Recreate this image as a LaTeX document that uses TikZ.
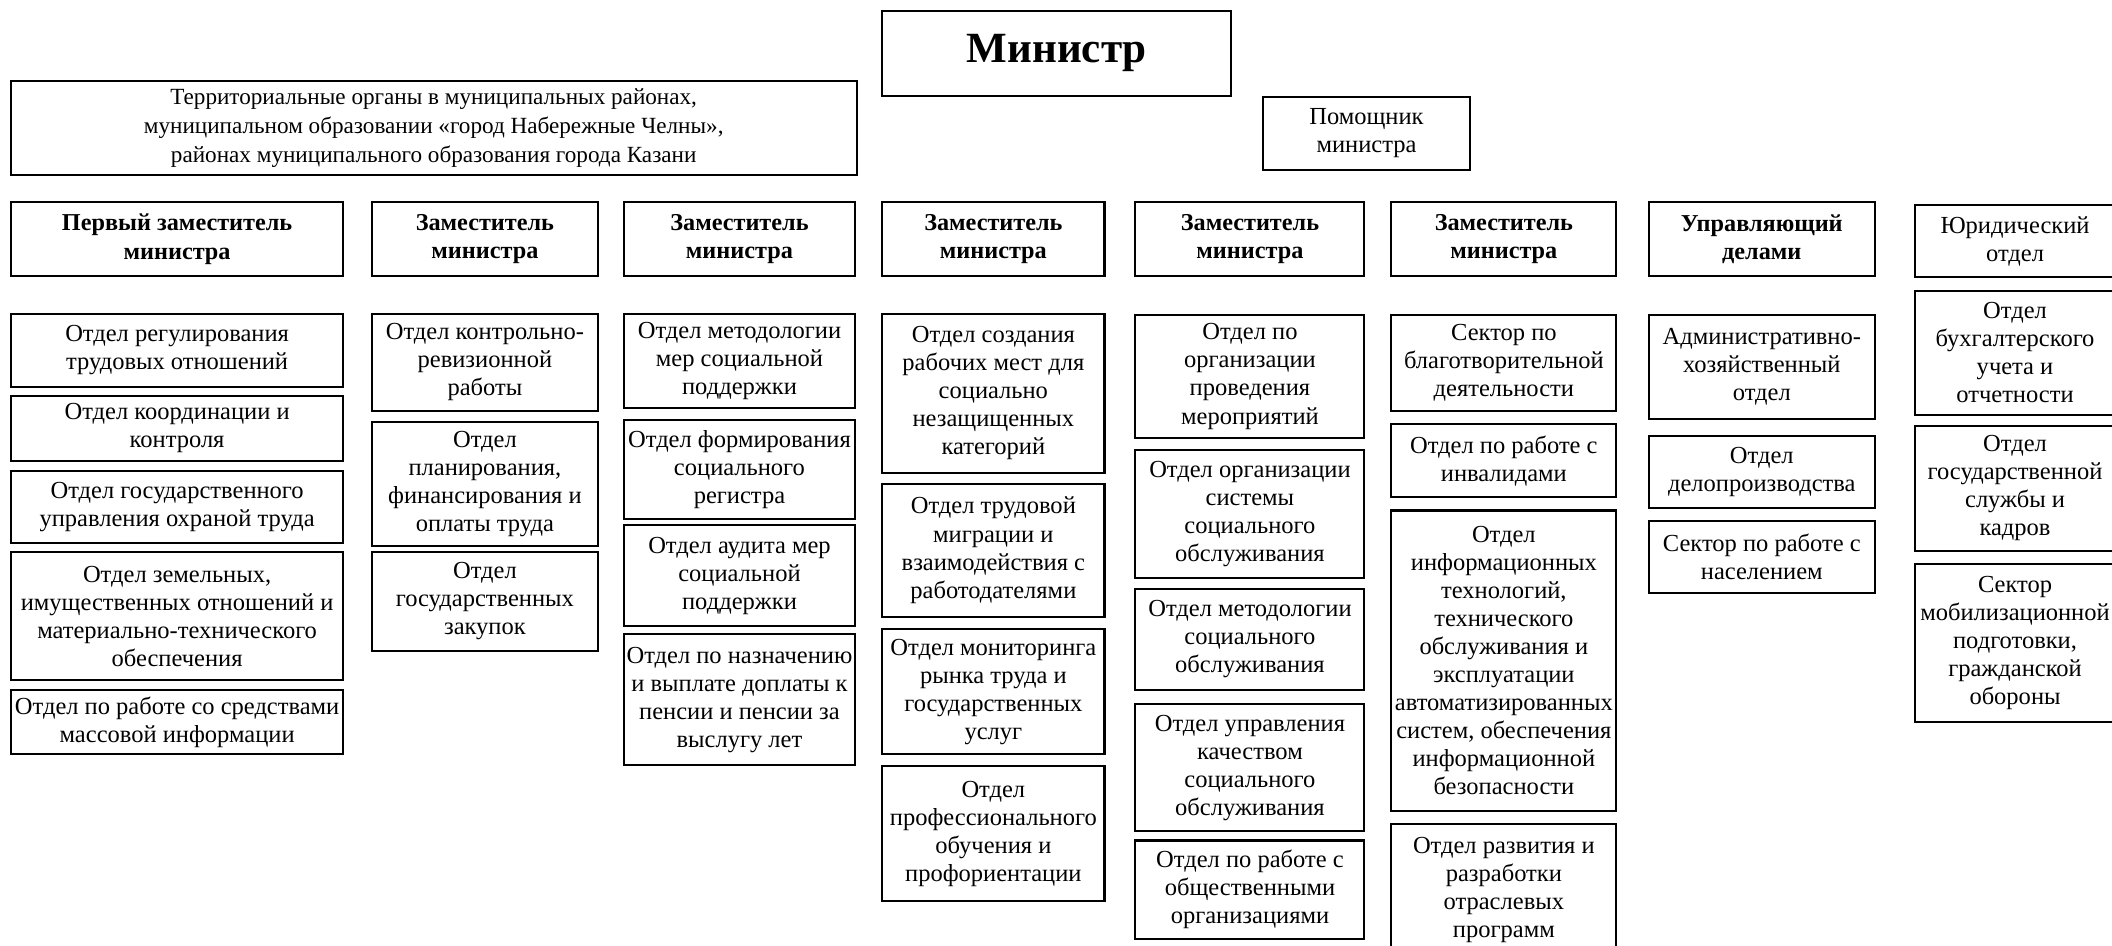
\documentclass[tikz,border=0pt]{standalone}
\usepackage{fontspec}
\setmainfont{Liberation Serif}
\tikzset{
  box/.style={draw, line width=0.75pt, inner sep=0pt, align=center,
    font=\fontsize{9.1}{10.4}\selectfont},
  head/.style={font=\fontsize{9}{10.6}\selectfont\bfseries},
  chief/.style={font=\fontsize{16}{18}\selectfont\bfseries},
  terr/.style={font=\fontsize{8.6}{10.8}\selectfont}
}
\newcommand\mybox[7][]{\node[box,#1,minimum width={(#5-#3)*0.5pt},minimum height={(#6-#4)*0.5pt}] (#2) at ({(#3+#5)/2},{(#4+#6)/2}) {#7};}
\begin{document}
\begin{tikzpicture}[x=0.5pt,y=-0.5pt]
\useasboundingbox[fill=white] (0,0) rectangle (1568,702);
% top
\mybox[chief]{min}{655}{8}{914}{71}{Министр}
\mybox{pom}{938}{72}{1091}{126}{Помощник\\министра}
\mybox[terr]{terr}{8}{60}{636}{130}{Территориальные органы в муниципальных районах,\\муниципальном образовании «город Набережные Челны»,\\районах муниципального образования города Казани}
% heads
\mybox[head]{h1}{8}{150}{255}{205}{Первый заместитель\\министра}
\mybox[head]{h2}{276}{150}{444}{205}{Заместитель\\министра}
\mybox[head]{h3}{463}{150}{635}{205}{Заместитель\\министра}
\mybox[head]{h4}{655}{150}{820}{205}{Заместитель\\министра}
\mybox[head]{h5}{843}{150}{1013}{205}{Заместитель\\министра}
\mybox[head]{h6}{1033}{150}{1200}{205}{Заместитель\\министра}
\mybox[head]{h7}{1224}{150}{1392}{205}{Управляющий\\делами}
\mybox{h8}{1422}{152}{1570}{206}{Юридический\\отдел}
% column 1
\mybox{a1}{8}{233}{255}{287}{Отдел регулирования\\трудовых отношений}
\mybox{a2}{8}{294}{255}{342}{Отдел координации и\\контроля}
\mybox{a3}{8}{350}{255}{403}{Отдел государственного\\управления охраной труда}
\mybox{a4}{8}{410}{255}{505}{Отдел земельных,\\имущественных отношений и\\материально-технического\\обеспечения}
\mybox{a5}{8}{512}{255}{560}{Отдел по работе со средствами\\массовой информации}
% column 2
\mybox{b1}{276}{233}{444}{305}{Отдел контрольно-\\ревизионной\\работы}
\mybox{b2}{276}{313}{444}{405}{Отдел\\планирования,\\финансирования и\\оплаты труда}
\mybox{b3}{276}{410}{444}{483}{Отдел\\государственных\\закупок}
% column 3
\mybox{c1}{463}{233}{635}{303}{Отдел методологии\\мер социальной\\поддержки}
\mybox{c2}{463}{312}{635}{385}{Отдел формирования\\социального\\регистра}
\mybox{c3}{463}{390}{635}{465}{Отдел аудита мер\\социальной\\поддержки}
\mybox{c4}{463}{471}{635}{568}{Отдел по назначению\\и выплате доплаты к\\пенсии и пенсии за\\выслугу лет}
% column 4
\mybox{d1}{655}{233}{820}{351}{Отдел создания\\рабочих мест для\\социально\\незащищенных\\категорий}
\mybox{d2}{655}{359}{820}{458}{Отдел трудовой\\миграции и\\взаимодействия с\\работодателями}
\mybox{d3}{655}{467}{820}{560}{Отдел мониторинга\\рынка труда и\\государственных\\услуг}
\mybox{d4}{655}{569}{820}{669}{Отдел\\профессионального\\обучения и\\профориентации}
% column 5
\mybox{e1}{843}{234}{1013}{325}{Отдел по\\организации\\проведения\\мероприятий}
\mybox{e2}{843}{334}{1013}{429}{Отдел организации\\системы\\социального\\обслуживания}
\mybox{e3}{843}{437}{1013}{512}{Отдел методологии\\социального\\обслуживания}
\mybox{e4}{843}{523}{1013}{617}{Отдел управления\\качеством\\социального\\обслуживания}
\mybox{e5}{843}{624}{1013}{697}{Отдел по работе с\\общественными\\организациями}
% column 6
\mybox{f1}{1033}{234}{1200}{305}{Сектор по\\благотворительной\\деятельности}
\mybox{f2}{1033}{315}{1200}{369}{Отдел по работе с\\инвалидами}
\mybox{f3}{1033}{379}{1200}{602}{Отдел\\информационных\\технологий,\\технического\\обслуживания и\\эксплуатации\\автоматизированных\\систем, обеспечения\\информационной\\безопасности}
\mybox{f4}{1033}{612}{1200}{710}{Отдел развития и\\разработки\\отраслевых\\программ}
% column 7
\mybox{g1}{1224}{234}{1392}{311}{Административно-\\хозяйственный\\отдел}
\mybox{g2}{1224}{324}{1392}{377}{Отдел\\делопроизводства}
\mybox{g3}{1224}{387}{1392}{440}{Сектор по работе с\\населением}
% column 8
\mybox{k1}{1422}{216}{1570}{308}{Отдел\\бухгалтерского\\учета и\\отчетности}
\mybox{k2}{1422}{316}{1570}{409}{Отдел\\государственной\\службы и\\кадров}
\mybox{k3}{1422}{419}{1570}{536}{Сектор\\мобилизационной\\подготовки,\\гражданской\\обороны}
\end{tikzpicture}
\end{document}
